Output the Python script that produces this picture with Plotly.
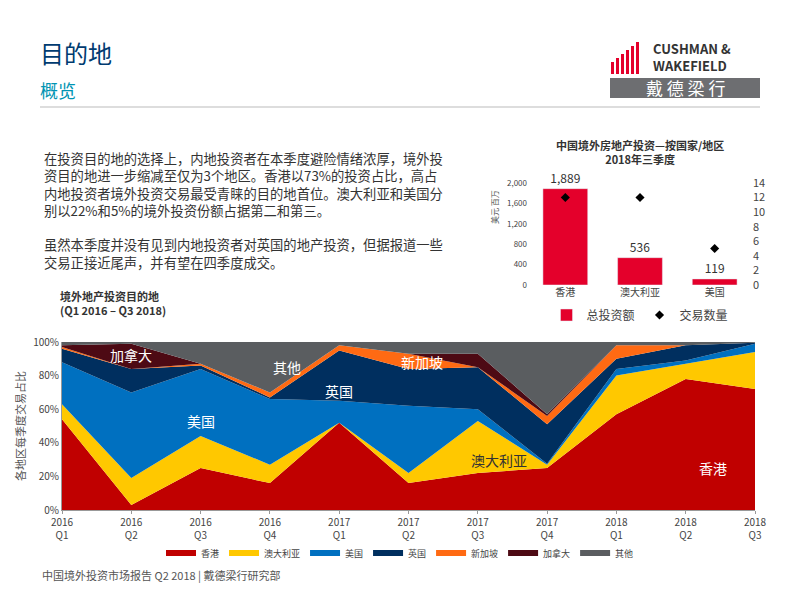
import plotly.graph_objects as go

quarters = ["2016<br>Q1","2016<br>Q2","2016<br>Q3","2016<br>Q4","2017<br>Q1","2017<br>Q2","2017<br>Q3","2017<br>Q4","2018<br>Q1","2018<br>Q2","2018<br>Q3"]
hk = [54, 3, 25, 16, 52, 16, 22, 25, 57, 78, 72]
au = [9, 16, 19, 11, 0, 6, 31, 2, 23, 9, 22]
us = [25, 51, 40, 39, 13, 40, 7, 0.5, 4, 2, 5]
uk = [8, 14, 2, 1, 30, 22, 25, 23.5, 6, 9, 0.5]
sg = [1, 0, 1, 3, 3, 9, 0, 5, 8, 0, 0]
ca = [1, 15, 0, 0, 0, 0, 8, 1, 0, 0, 0]
other = [2, 1, 13, 30, 2, 7, 7, 43, 2, 2, 0.5]

bar_cats = ["香港", "澳大利亚", "美国"]
bar_vals = [1889, 536, 119]
deal_counts = [12, 12, 5]

series = [("香港", hk, "#C00000"), ("澳大利亚", au, "#FFC800"), ("美国", us, "#0070C0"),
          ("英国", uk, "#002F5F"), ("新加坡", sg, "#FF6A13"), ("加拿大", ca, "#4D0A14"),
          ("其他", other, "#5A5D60")]

OFF = 8
def px(x): return (x - OFF) / 800
def py(y): return 1 - (y - OFF) / 600

fig = go.Figure()
for name, vals, col in series:
    fig.add_trace(go.Scatter(x=quarters, y=vals, name=name, stackgroup="a", mode="none",
                             fillcolor=col, line=dict(width=0), xaxis="x", yaxis="y", legend="legend"))

fig.add_trace(go.Bar(x=bar_cats, y=bar_vals, name="总投资额", marker_color="#E4002B", width=0.6,
                     text=[f"{v:,}" for v in bar_vals], textposition="outside", cliponaxis=False,
                     textfont=dict(size=12, color="#333"), xaxis="x2", yaxis="y2", legend="legend2"))
fig.add_trace(go.Scatter(x=bar_cats, y=deal_counts, name="交易数量", mode="markers",
                         marker=dict(symbol="diamond", color="black", size=7),
                         xaxis="x2", yaxis="y3", legend="legend2"))

def P(x, y, text, size, color, xa="center", **kw):
    return dict(x=px(x), y=py(y), xref="paper", yref="paper", text=text, showarrow=False,
                xanchor=xa, yanchor="middle", font=dict(size=size, color=color), **kw)

labels = [("加拿大", 1, 92, "white"), ("其他", 3.25, 85, "white"), ("美国", 2, 53, "white"),
          ("英国", 4, 71, "white"), ("新加坡", 5.2, 88, "white"), ("澳大利亚", 6.3, 30, "#333"),
          ("香港", 9.4, 25, "white")]
ann = [dict(x=x, y=y, xref="x", yref="y", text=t, showarrow=False, font=dict(size=14, color=c)) for t, x, y, c in labels]
ann += [
    P(38, 52, "目的地", 24, "#003B70", "left"),
    P(38, 90, "概览", 18, "#0094B3", "left"),
    P(640, 152, "<b>中国境外房地产投资—按国家/地区<br>2018年三季度</b>", 11, "#333"),
    P(42, 210, "在投资目的地的选择上，内地投资者在本季度避险情绪浓厚，境外投<br>资目的地进一步缩减至仅为3个地区。香港以73%的投资占比，高占<br>内地投资者境外投资交易最受青睐的目的地首位。澳大利亚和美国分<br>别以22%和5%的境外投资份额占据第二和第三。<br><br>虽然本季度并没有见到内地投资者对英国的地产投资，但据报道一些<br>交易正接近尾声，并有望在四季度成交。",
      13.3, "#333", "left", align="left"),
    P(58, 303, "<b>境外地产投资目的地<br>(Q1 2016 – Q3 2018)</b>", 11, "#333", "left", align="left"),
    P(20, 426, "各地区每季度交易占比", 11, "#555", textangle=-90),
    P(494, 207, "美元 百万", 8, "#555", textangle=-90),
    P(40, 575, "中国境外投资市场报告 Q2 2018 | 戴德梁行研究部", 11, "#555", "left"),
    P(692, 57, "<b>CUSHMAN &amp;<br>WAKEFIELD</b>", 13, "#333", align="left"),
    P(685, 88, "戴 德 梁 行", 17, "white"),
]

shapes = [
    dict(type="line", xref="paper", yref="paper", x0=px(40), x1=px(760), y0=py(107), y1=py(107), line=dict(color="#BBB", width=1)),
    dict(type="rect", xref="paper", yref="paper", x0=px(610), x1=px(760), y0=py(98), y1=py(78), fillcolor="#6D6E71", line=dict(width=0)),
]
for i, h in enumerate([12, 16, 20, 24, 28, 32]):
    shapes.append(dict(type="rect", xref="paper", yref="paper", x0=px(611+i*5), x1=px(614+i*5),
                       y0=py(74), y1=py(74-h), fillcolor="#E4002B", line=dict(width=0)))

fig.update_layout(
    width=800, height=600, margin=dict(l=0, r=0, t=0, b=0, autoexpand=False), paper_bgcolor="white", plot_bgcolor="white",
    font=dict(family="Noto Sans CJK SC, Arial", color="#444"),
    xaxis=dict(domain=[px(62), px(755)], range=[0, 10], showgrid=False, tickfont=dict(size=10), automargin=False,
               showline=True, linecolor="#999", ticks="outside", ticklen=3, tickcolor="#999"),
    yaxis=dict(domain=[py(510), py(342)], range=[0, 100], ticksuffix="%", dtick=20, showgrid=False, automargin=False,
               tickfont=dict(size=10), showline=True, linecolor="#999"),
    xaxis2=dict(domain=[px(528), px(752)], anchor="y2", showgrid=False, tickfont=dict(size=10), automargin=False),
    yaxis2=dict(domain=[py(285), py(183)], anchor="x2", range=[0, 2000], dtick=400, tickformat=",", automargin=False,
                showgrid=False, tickfont=dict(size=8), zeroline=True, zerolinecolor="#ccc"),
    yaxis3=dict(overlaying="y2", side="right", anchor="x2", range=[0, 14], dtick=2, showgrid=False, tickfont=dict(size=11), automargin=False),
    legend=dict(orientation="h", x=px(400), xanchor="center", y=py(553), yanchor="middle", font=dict(size=9),
                traceorder="normal", itemwidth=30, bgcolor="rgba(0,0,0,0)"),
    legend2=dict(orientation="h", x=px(640), xanchor="center", y=py(315), yanchor="middle", font=dict(size=12),
                 bgcolor="rgba(0,0,0,0)"),
    annotations=ann, shapes=shapes,
)
fig.write_html("out.html")
